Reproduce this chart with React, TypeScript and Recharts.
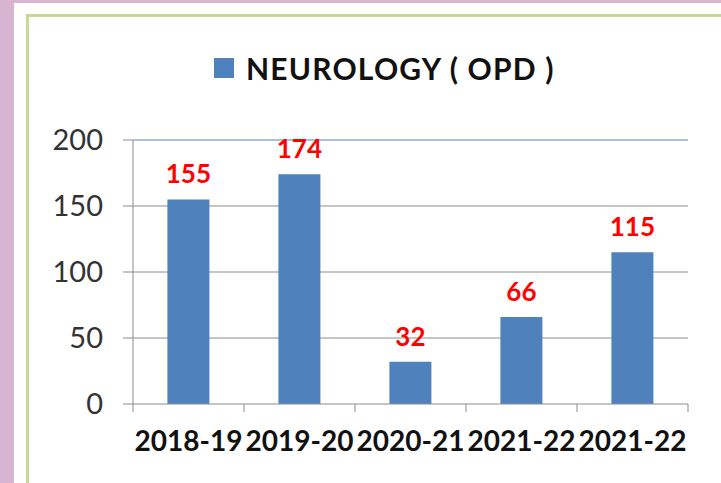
import { BarChart, Bar, XAxis, YAxis, CartesianGrid, Legend, LabelList, ReferenceLine } from "recharts";

// NEUROLOGY (OPD) yearly counts
const years = ["2018-19", "2019-20", "2020-21", "2021-22", "2021-22"];
const opdCounts = [155, 174, 32, 66, 115];
const yTicks = [0, 50, 100, 150, 200];

const data = years.map((name, i) => ({ name, value: opdCounts[i] }));

const BLUE = "#4f81bd";
const AXIS = "#8c8c8c";
const FONT = "Lato, 'Open Sans', sans-serif";
const X_MARGIN = 27;

// category label + tick marks on the category boundaries (Excel style)
const XTick = (props: any) => {
  const { x, y, payload, index, visibleTicksCount } = props;
  const half = payload.offset || 0;
  const top = y - X_MARGIN;
  return (
    <g>
      <line x1={x - half} x2={x - half} y1={top} y2={top + 8} stroke={AXIS} />
      {index === visibleTicksCount - 1 && <line x1={x + half} x2={x + half} y1={top} y2={top + 8} stroke={AXIS} />}
      <text x={x} y={y} dy="0.71em" textAnchor="middle" fill="#111" fontSize={28} fontWeight={700} fontFamily={FONT}>
        {payload.value}
      </text>
    </g>
  );
};

const LegendBox = () => (
  <div style={{ display: "flex", alignItems: "center", paddingLeft: 214, fontFamily: FONT }}>
    <span style={{ width: 20, height: 20, background: BLUE, marginRight: 12 }} />
    <span style={{ fontSize: 30, fontWeight: 700, color: "#111", letterSpacing: 1.2 }}>NEUROLOGY ( OPD )</span>
  </div>
);

const App = () => {
  return (
    <div
      style={{
        position: "absolute",
        top: 0,
        left: 0,
        width: 721,
        height: 483,
        overflow: "hidden",
        background: "#d7b5d1",
      }}
    >
      <div style={{ position: "absolute", left: 14, top: 3, width: 760, height: 520, background: "#fff" }} />
      <div
        style={{
          position: "absolute",
          left: 26,
          top: 14,
          width: 760,
          height: 520,
          border: "3px solid #c5db94",
        }}
      />
      <div style={{ position: "absolute", left: 0, top: 0 }}>
        <BarChart width={721} height={483} data={data} margin={{ top: 140, right: 33, left: 0, bottom: 0 }} barCategoryGap="31%">
          <CartesianGrid horizontal vertical={false} stroke={AXIS} horizontalValues={[50, 100, 150]} />
          <XAxis
            dataKey="name"
            height={79}
            tickLine={false}
            tickSize={0}
            tickMargin={X_MARGIN}
            axisLine={{ stroke: AXIS }}
            interval={0}
            tick={<XTick />}
          />
          <YAxis
            width={133}
            domain={[0, 200]}
            ticks={yTicks}
            tickSize={10}
            tickMargin={20}
            stroke={AXIS}
            tick={{ fill: "#333", fontSize: 29, fontFamily: FONT }}
          />
          <YAxis yAxisId="right" orientation="right" width={0} tick={false} tickLine={false} axisLine={{ stroke: "#a9c1e2", strokeWidth: 2 }} />
          <ReferenceLine y={200} stroke="#a9c1e2" strokeWidth={2} />
          <Legend
            layout="horizontal"
            verticalAlign="middle"
            align="center"
            content={<LegendBox />}
            wrapperStyle={{ position: "absolute", top: 50, left: 0, width: 721 }}
          />
          <Bar dataKey="value" fill={BLUE} isAnimationActive={false}>
            <LabelList
              dataKey="value"
              position="top"
              offset={16}
              fill="#ff0000"
              style={{ fontSize: 26, fontWeight: 700, fontFamily: FONT }}
            />
          </Bar>
        </BarChart>
      </div>
    </div>
  );
};

export default App;
